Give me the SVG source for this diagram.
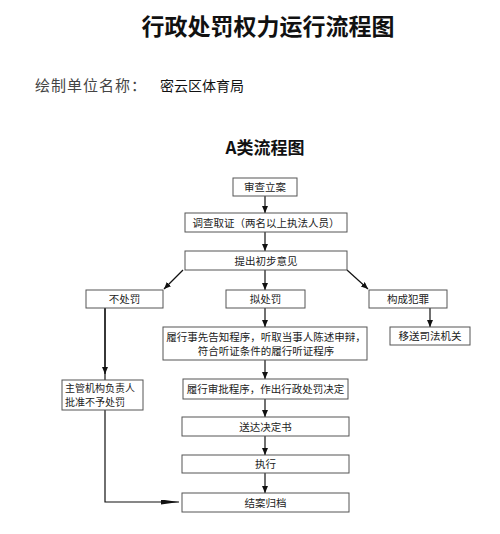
<svg xmlns="http://www.w3.org/2000/svg" width="500" height="534" viewBox="0 0 500 534">
<style>
.box{fill:#fff;stroke:#555;stroke-width:1}
.t{font-family:"Noto Sans CJK SC",sans-serif;font-size:10.5px;fill:#222;text-anchor:middle}
.tl{font-family:"Noto Sans CJK SC",sans-serif;font-size:10px;fill:#222}
.c{stroke:#111;stroke-width:1.2;fill:none}
</style>
<defs>
<marker id="ah" markerUnits="userSpaceOnUse" markerWidth="8" markerHeight="7" refX="7" refY="3" orient="auto">
<path d="M0,0 L7,3 L0,6 z" fill="#111"/>
</marker>
<marker id="ahl" markerUnits="userSpaceOnUse" markerWidth="20" markerHeight="6" refX="18" refY="2.5" orient="auto">
<path d="M0,0 L18,2.5 L0,5 z" fill="#111"/>
</marker>
</defs>
<text x="268" y="35" style="font-family:'Noto Sans CJK SC',serif;font-size:23px;font-weight:bold;fill:#111;text-anchor:middle">行政处罚权力运行流程图</text>
<text x="35" y="91" style="font-family:'Noto Sans CJK SC',sans-serif;font-size:15px;fill:#444;letter-spacing:1px">绘制单位名称：</text>
<text x="160" y="91" style="font-family:'Noto Sans CJK SC',sans-serif;font-size:14px;fill:#111">密云区体育局</text>
<text x="265" y="154" style="font-family:'Noto Sans CJK SC',serif;font-size:17px;font-weight:bold;fill:#111;text-anchor:middle">A类流程图</text>
<g id="connectors">
<line class="c" x1="265" y1="196" x2="265" y2="213" marker-end="url(#ah)"/>
<line class="c" x1="265" y1="232" x2="265" y2="251" marker-end="url(#ah)"/>
<line class="c" x1="183" y1="270" x2="164" y2="289" marker-end="url(#ah)"/>
<line class="c" x1="265" y1="270" x2="265" y2="290" marker-end="url(#ah)"/>
<line class="c" x1="347" y1="270" x2="368" y2="289" marker-end="url(#ah)"/>
<line class="c" x1="265" y1="308" x2="265" y2="327" marker-end="url(#ah)"/>
<line class="c" x1="430" y1="308" x2="430" y2="327" marker-end="url(#ah)"/>
<line class="c" x1="265" y1="360" x2="265" y2="379" marker-end="url(#ah)"/>
<line class="c" x1="265" y1="399" x2="265" y2="417" marker-end="url(#ah)"/>
<line class="c" x1="265" y1="436" x2="265" y2="455" marker-end="url(#ah)"/>
<line class="c" x1="265" y1="473" x2="265" y2="493" marker-end="url(#ah)"/>
<line class="c" x1="105" y1="308" x2="105" y2="381"/>
<line class="c" x1="105" y1="308" x2="105" y2="374" marker-end="url(#ah)"/>
<path class="c" d="M105,410 L105,502 L179,502" marker-end="url(#ahl)"/>
</g>
<g id="n1"><rect class="box" x="233" y="178" width="64" height="18"/><text class="t" x="265" y="191">审查立案</text></g>
<g id="n2"><rect class="box" x="185" y="213" width="162" height="19"/><text class="t" x="266" y="226.5">调查取证（两名以上执法人员）</text></g>
<g id="n3"><rect class="box" x="185" y="251" width="162" height="19"/><text class="t" x="266" y="264.5">提出初步意见</text></g>
<g id="n4"><rect class="box" x="86" y="290" width="77" height="18"/><text class="t" x="124.5" y="303">不处罚</text></g>
<g id="n5"><rect class="box" x="226" y="290" width="79" height="18"/><text class="t" x="265.5" y="303">拟处罚</text></g>
<g id="n6"><rect class="box" x="369" y="290" width="78" height="18"/><text class="t" x="408" y="303">构成犯罪</text></g>
<g id="n7"><rect class="box" x="390" y="327" width="80" height="18"/><text class="t" x="430" y="340">移送司法机关</text></g>
<g id="n8"><rect class="box" x="163" y="327" width="204" height="33"/><text class="t" x="266" y="341">履行事先告知程序，听取当事人陈述申辩，</text><text class="t" x="266" y="355">符合听证条件的履行听证程序</text></g>
<g id="n9"><rect class="box" x="62" y="380" width="81" height="30"/><text class="tl" x="65" y="392">主管机构负责人</text><text class="tl" x="65" y="406">批准不予处罚</text></g>
<g id="n10"><rect class="box" x="183" y="379" width="165" height="20"/><text class="t" x="265.5" y="393">履行审批程序，作出行政处罚决定</text></g>
<g id="n11"><rect class="box" x="182" y="417" width="167" height="19"/><text class="t" x="265.5" y="430.5">送达决定书</text></g>
<g id="n12"><rect class="box" x="182" y="455" width="167" height="18"/><text class="t" x="265.5" y="468">执行</text></g>
<g id="n13"><rect class="box" x="182" y="493" width="167" height="19"/><text class="t" x="265.5" y="506.5">结案归档</text></g>
</svg>
